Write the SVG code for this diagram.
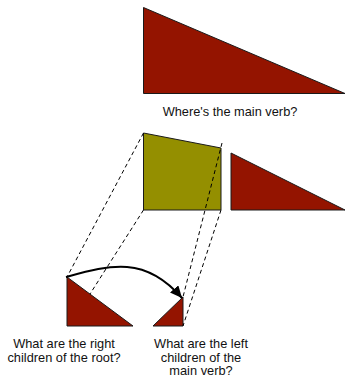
<svg xmlns="http://www.w3.org/2000/svg" width="346" height="377" viewBox="0 0 346 377">
<defs>
<style>
.red{fill:#941400;stroke:#1a1a1a;stroke-width:1;stroke-linejoin:miter}
.olive{fill:#948f00;stroke:#1a1a1a;stroke-width:1}
.dash{fill:none;stroke:#000;stroke-width:1;stroke-dasharray:4,3}
.arc{fill:none;stroke:#000;stroke-width:2}
text{font-family:"Liberation Sans",Arial,sans-serif;font-size:12.8px;fill:#111;text-anchor:middle}
</style>
<marker id="ah" markerUnits="userSpaceOnUse" markerWidth="14" markerHeight="12" refX="12" refY="5.5" orient="auto">
<path d="M0,0 L12,5.5 L0,11 Z" fill="#000"/>
</marker>
</defs>
<g id="top-tree">
<polygon class="red" points="143.5,7.5 143.5,93.5 345,93.5"/>
<text x="230" y="116">Where's the main verb?</text>
</g>
<g id="left-subtree">
<polygon class="olive" points="143.5,133 221,148 221,210 143.5,210"/>
</g>
<g id="right-subtree">
<polygon class="red" points="231,153 231,210 345,210"/>
</g>
<g id="right-children">
<polygon class="red" points="67,277 67,326 133,326"/>
<text x="64" y="348">What are the right</text>
<text x="64" y="361.5">children of the root?</text>
</g>
<g id="left-children">
<polygon class="red" points="183,297 183,326 153,326"/>
<text x="201" y="348">What are the left</text>
<text x="201" y="361.5">children of the</text>
<text x="201" y="375">main verb?</text>
</g>
<g id="connectors">
<line class="dash" x1="143.5" y1="133" x2="67" y2="277"/>
<line class="dash" x1="143.5" y1="210" x2="90" y2="294"/>
<line class="dash" x1="222" y1="143" x2="183" y2="297"/>
<line class="dash" x1="221" y1="210" x2="183" y2="326"/>
<path class="arc" d="M66,277 C110,265 145,255 182,298" marker-end="url(#ah)"/>
</g>
</svg>
